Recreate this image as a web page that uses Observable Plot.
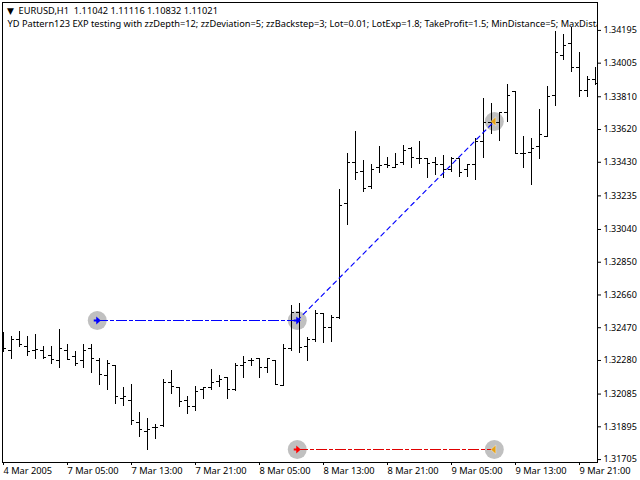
<!DOCTYPE html>
<html>
<head>
<meta charset="utf-8">
<style>html,body{margin:0;padding:0;background:#fff}svg{display:block}</style>
<script src="https://cdn.jsdelivr.net/npm/d3@7"></script>
<script src="https://cdn.jsdelivr.net/npm/@observablehq/plot@0.6"></script>
</head>
<body>
<div id="chart"></div>
<script>
const opens = [1.32367,1.32336,1.32400,1.32359,1.32336,1.32336,1.32307,1.32278,1.32336,1.32301,1.32278,1.32348,1.32278,1.32191,1.32249,1.32061,1.32046,1.31918,1.31866,1.31889,1.31901,1.32150,1.32121,1.32046,1.32011,1.32110,1.32121,1.32156,1.32179,1.32110,1.32249,1.32278,1.32290,1.32237,1.32278,1.32133,1.32348,1.32560,1.32363,1.32400,1.32551,1.32469,1.32528,1.33189,1.33427,1.33375,1.33288,1.33398,1.33416,1.33398,1.33427,1.33508,1.33450,1.33450,1.33427,1.33416,1.33386,1.33450,1.33386,1.33416,1.33552,1.33661,1.33661,1.33719,1.33841,1.33479,1.33485,1.33520,1.33578,1.33816,1.34048,1.34118,1.33979,1.33845,1.33909];
const highs = [1.32442,1.32419,1.32448,1.32419,1.32431,1.32359,1.32359,1.32460,1.32373,1.32332,1.32373,1.32373,1.32290,1.32278,1.32249,1.32121,1.32140,1.31976,1.31943,1.31908,1.32168,1.32222,1.32121,1.32069,1.32129,1.32121,1.32226,1.32191,1.32179,1.32261,1.32301,1.32290,1.32290,1.32290,1.32278,1.32371,1.32599,1.32609,1.32415,1.32570,1.32551,1.32541,1.33272,1.33481,1.33609,1.33440,1.33417,1.33522,1.33458,1.33481,1.33528,1.33518,1.33551,1.33450,1.33456,1.33469,1.33456,1.33450,1.33416,1.33566,1.33800,1.33770,1.33719,1.33882,1.33841,1.33580,1.33568,1.33736,1.33870,1.34189,1.34172,1.34212,1.34066,1.33926,1.33979];
const lows = [1.32328,1.32285,1.32357,1.32305,1.32285,1.32285,1.32258,1.32235,1.32285,1.32247,1.32235,1.32206,1.32136,1.32107,1.32026,1.32014,1.31904,1.31831,1.31759,1.31819,1.31889,1.32084,1.32009,1.31968,1.31985,1.32055,1.32104,1.32125,1.32055,1.32098,1.32175,1.32245,1.32175,1.32206,1.32139,1.32127,1.32332,1.32319,1.32274,1.32386,1.32377,1.32386,1.32518,1.33065,1.33324,1.33256,1.33270,1.33367,1.33394,1.33394,1.33411,1.33396,1.33416,1.33338,1.33353,1.33338,1.33373,1.33340,1.33340,1.33324,1.33452,1.33591,1.33552,1.33661,1.33483,1.33394,1.33295,1.33446,1.33576,1.33754,1.34021,1.33951,1.33806,1.33806,1.33876];
const closes = [1.32348,1.32402,1.32371,1.32330,1.32342,1.32297,1.32287,1.32348,1.32287,1.32262,1.32336,1.32290,1.32197,1.32261,1.32069,1.32069,1.31930,1.31877,1.31877,1.31889,1.32150,1.32127,1.32040,1.32014,1.32098,1.32121,1.32150,1.32168,1.32110,1.32249,1.32266,1.32278,1.32237,1.32290,1.32139,1.32348,1.32560,1.32357,1.32400,1.32554,1.32469,1.32528,1.33178,1.33427,1.33369,1.33276,1.33386,1.33410,1.33410,1.33416,1.33497,1.33456,1.33450,1.33421,1.33416,1.33386,1.33450,1.33373,1.33416,1.33552,1.33661,1.33661,1.33719,1.33816,1.33483,1.33479,1.33508,1.33590,1.33810,1.34066,1.34108,1.33979,1.33845,1.33909,1.33886];

const priceTicks = [1.34195,1.34005,1.33810,1.33620,1.33430,1.33235,1.33040,1.32850,1.32660,1.32470,1.32280,1.32085,1.31895,1.31705];
const timeTickBars = [0,8,16,24,32,40,48,56,64,72];
const timeTickLabels = ["4 Mar 2005","7 Mar 05:00","7 Mar 13:00","7 Mar 21:00","8 Mar 05:00","8 Mar 13:00","8 Mar 21:00","9 Mar 05:00","9 Mar 13:00","9 Mar 21:00"];

const headerLine = "EURUSD,H1  1.11042 1.11116 1.10832 1.11021";
const commentLine = "YD Pattern123 EXP testing with zzDepth=12; zzDeviation=5; zzBackstep=3; Lot=0.01; LotExp=1.8; TakeProfit=1.5; MinDistance=5; MaxDista";

const blueLevelBars = [11.72, 36.72];
const blueLevelPrices = [1.32512, 1.32512];
const blueTrendBars = [36.72, 61.35];
const blueTrendPrices = [1.32512, 1.33667];
const redLevelBars = [36.72, 61.35];
const redLevelPrices = [1.31763, 1.31763];

const buyBars = [11.72, 36.72];
const buyPrices = [1.32512, 1.32512];
const sellEntryBars = [36.72];
const sellEntryPrices = [1.31763];
const exitBars = [61.35, 61.35];
const exitPrices = [1.33667, 1.31763];

const bars = opens.map((o, i) => ({i, o, h: highs[i], l: lows[i], c: closes[i]}));
const zip = (xs, ys) => xs.map((x, k) => ({x, y: ys[k]}));
const tickLabelFor = new Map(timeTickBars.map((b, k) => [b, timeTickLabels[k]]));

const arrowRight = {draw(c) {
  c.moveTo(3.5, 0); c.lineTo(-1, -4); c.lineTo(-1, -1); c.lineTo(-3.5, -1);
  c.lineTo(-3.5, 1); c.lineTo(-1, 1); c.lineTo(-1, 4); c.closePath();
}};
const arrowLeft = {draw(c) {
  c.moveTo(-3.5, 0); c.lineTo(1.5, -4.5); c.lineTo(1.5, 4.5); c.closePath();
}};

const font = "'Noto Sans', sans-serif";
const dashDot = "10 3 3 3";
const crisp = "crispEdges";

const chart = Plot.plot({
  width: 640,
  height: 480,
  marginLeft: 2,
  marginRight: 43,
  marginTop: 2,
  marginBottom: 18,
  style: {fontFamily: font, fontSize: "9.25px", background: "#fff", color: "#000"},
  x: {type: "linear", domain: [-0.125, 74.25]},
  y: {type: "linear", domain: [1.31688, 1.34357]},
  marks: [
    Plot.dot(zip(blueLevelBars.concat(blueTrendBars.slice(1), redLevelBars), blueLevelPrices.concat(blueTrendPrices.slice(1), redLevelPrices)), {x: "x", y: "y", r: 9.5, fill: "#c0c0c0"}),
    Plot.ruleX(bars, {x: "i", y1: "l", y2: "h", stroke: "#000", strokeWidth: 1, shapeRendering: crisp, clip: true}),
    Plot.ruleY(bars, {y: "o", x1: d => d.i - 0.375, x2: "i", stroke: "#000", strokeWidth: 1, shapeRendering: crisp, clip: true}),
    Plot.ruleY(bars, {y: "c", x1: "i", x2: d => d.i + 0.375, stroke: "#000", strokeWidth: 1, shapeRendering: crisp, clip: true}),
    Plot.line(zip(blueLevelBars, blueLevelPrices), {x: "x", y: "y", stroke: "#0000ff", strokeWidth: 1, strokeDasharray: dashDot, shapeRendering: crisp}),
    Plot.line(zip(blueTrendBars, blueTrendPrices), {x: "x", y: "y", stroke: "#0000ff", strokeWidth: 1.15, strokeDasharray: "4.5 4"}),
    Plot.line(zip(redLevelBars, redLevelPrices), {x: "x", y: "y", stroke: "#e00000", strokeWidth: 1, strokeDasharray: dashDot, shapeRendering: crisp}),
    Plot.dot(zip(buyBars, buyPrices), {x: "x", y: "y", symbol: arrowRight, fill: "#0000ff", stroke: "none"}),
    Plot.dot(zip(sellEntryBars, sellEntryPrices), {x: "x", y: "y", symbol: arrowRight, fill: "#ff0000", stroke: "none"}),
    Plot.dot(zip(exitBars, exitPrices), {x: "x", y: "y", symbol: arrowLeft, fill: "#e6a010", stroke: "#fff", strokeWidth: 0.4}),
    Plot.text(["\u25BC"], {frameAnchor: "top-left", dx: 4.5, dy: 9, lineAnchor: "middle", textAnchor: "start", fontSize: 9, fontFamily: "DejaVu Sans", fill: "#000"}),
    Plot.text([headerLine], {frameAnchor: "top-left", dx: 16, dy: 9, lineAnchor: "middle", textAnchor: "start", fill: "#000"}),
    Plot.text([commentLine], {frameAnchor: "top-left", dx: 5, dy: 22, lineAnchor: "middle", textAnchor: "start", fill: "#000", clip: "frame"}),
    Plot.frame({stroke: "#000", strokeWidth: 1, shapeRendering: crisp}),
    Plot.axisY({anchor: "right", ticks: priceTicks, tickFormat: d => d.toFixed(5), tickSize: 3, tickPadding: 3, label: null, stroke: "#000", fill: "#000", fontSize: 9}),
    Plot.axisX({anchor: "bottom", ticks: timeTickBars, tickFormat: d => tickLabelFor.get(d), tickSize: 3, tickPadding: 2, label: null, textAnchor: "start", stroke: "#000", fill: "#000"})
  ]
});
document.getElementById("chart").appendChild(chart);
</script>
</body>
</html>
